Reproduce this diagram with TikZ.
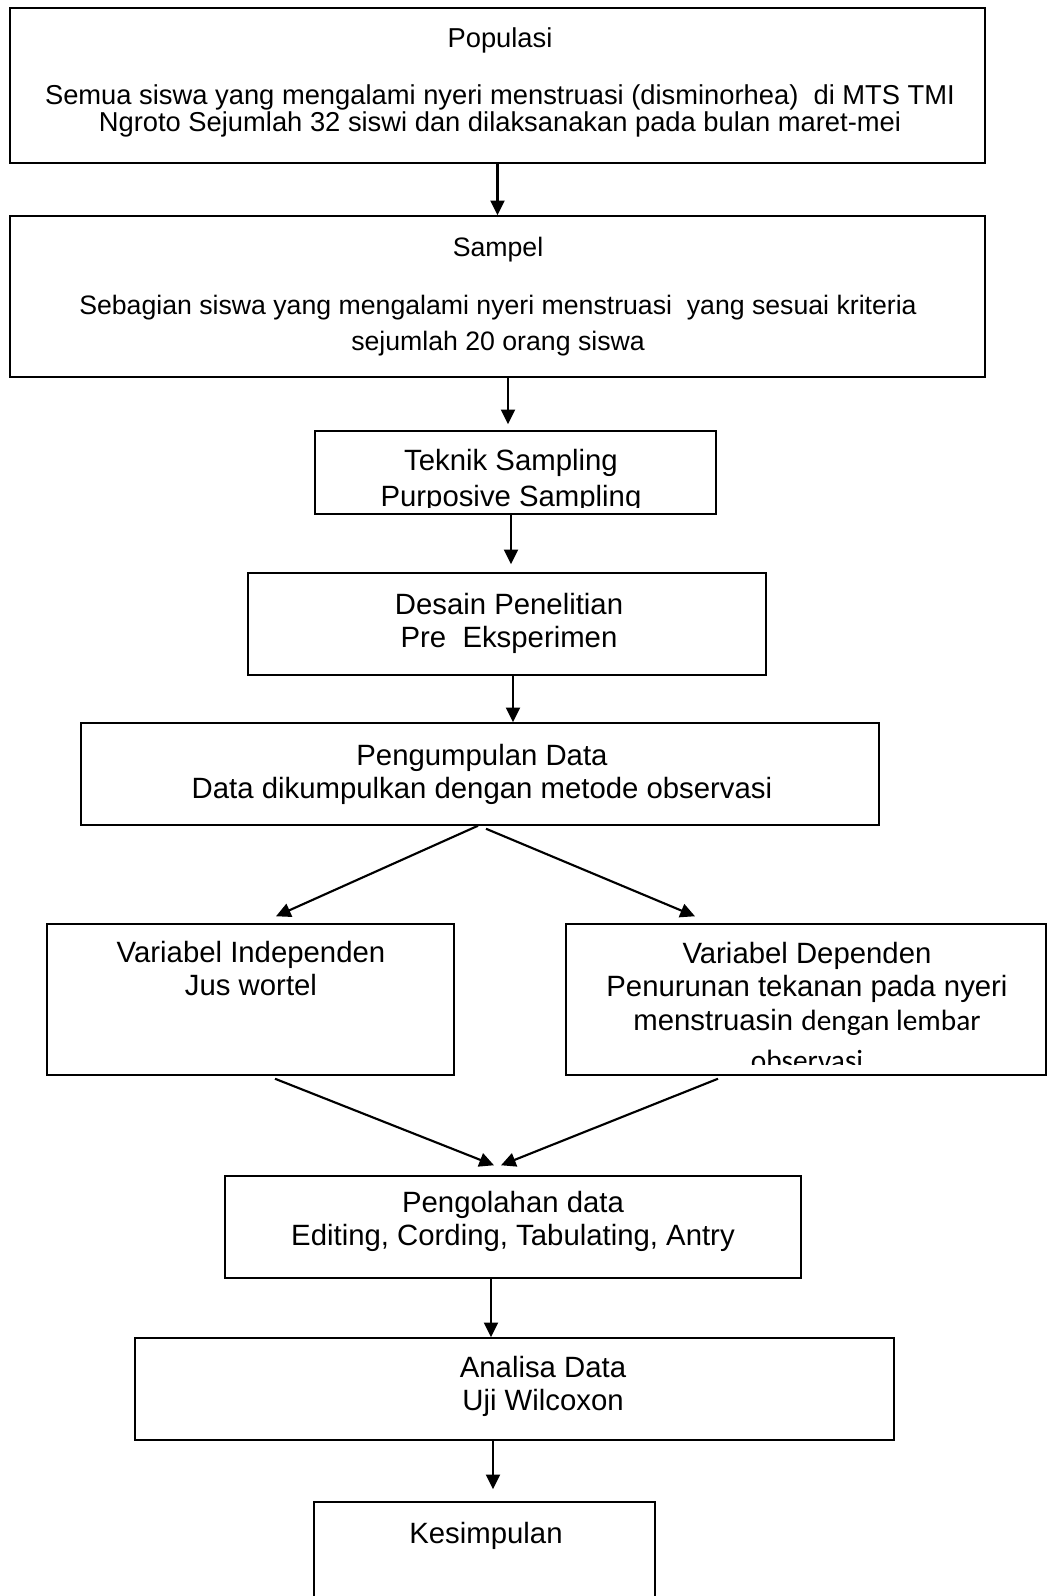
\documentclass[tikz,border=0pt]{standalone}
\usepackage{fontspec}
\setmainfont{Liberation Sans}
\newfontfamily\calibfont{Carlito}
\usetikzlibrary{arrows.meta,calc,fit}
\tikzset{
  boks/.style={draw=black,line width=1.1pt,inner sep=0pt},
  isi/.style={anchor=north,align=center,inner sep=0pt,font=\fontsize{22}{25}\selectfont},
  isik/.style={isi,font=\fontsize{20.5}{19}\selectfont},
  panah/.style={-{Triangle[length=11pt,width=10.5pt]},line width=1.6pt},
}

\begin{document}
\begin{tikzpicture}[x=0.75pt,y=-0.75pt]
  \useasboundingbox (0,0) rectangle (1048,1596);
  \clip (0,0) rectangle (1048,1596);

  % kotak-kotak alur
  \node[boks,fit={(10,8) (985,163)}]      (pop)  {};
  \node[boks,fit={(10,216) (985,377)}]    (sam)  {};
  \node[boks,fit={(315,431) (716,514)}]   (tek)  {};
  \node[boks,fit={(248,573) (766,675)}]   (des)  {};
  \node[boks,fit={(81,723) (879,825)}]    (pen)  {};
  \node[boks,fit={(47,924) (454,1075)}]   (ind)  {};
  \node[boks,fit={(566,924) (1046,1075)}] (dep)  {};
  \node[boks,fit={(225,1176) (801,1278)}] (olah) {};
  \node[boks,fit={(135,1338) (894,1440)}] (ana)  {};
  \node[boks,fit={(314,1502) (655,1640)}] (kes)  {};

  % isi kotak
  \node[isik] (popt) at (500,27)
    {Populasi\\[23pt]
     Semua siswa yang mengalami nyeri menstruasi (disminorhea)~ di MTS TMI\\
     Ngroto Sejumlah 32 siswi dan dilaksanakan pada bulan maret-mei};
  \node[isik,font=\fontsize{20}{27}\selectfont] (samt) at (498,237)
    {Sampel\\[16.5pt]
     Sebagian siswa yang mengalami nyeri menstruasi~ yang sesuai kriteria\\
     sejumlah 20 orang siswa};
  \begin{scope}
    \clip ($(tek.south west)+(1,-7)$) rectangle (tek.north east);
    \node[isi,font=\fontsize{22}{27}\selectfont] (tekt) at (511,449)
      {Teknik Sampling\\Purposive Sampling};
  \end{scope}
  \node[isi] (dest) at (509,593) {Desain Penelitian\\Pre~ Eksperimen};
  \node[isi] (pent) at (482,744)
    {Pengumpulan Data\\Data dikumpulkan dengan metode observasi};
  \node[isi] (indt) at (251,941) {Variabel Independen\\Jus wortel};
  \begin{scope}
    \clip ($(dep.south west)+(1,-11)$) rectangle (dep.north east);
    \node[isi] (dept) at (807,942)
      {Variabel Dependen\\Penurunan tekanan pada nyeri\\
       menstruasin {\calibfont dengan lembar}\\[5pt]{\calibfont observasi}};
  \end{scope}
  \node[isi] (olaht) at (513,1191)
    {Pengolahan data\\Editing, Cording, Tabulating, Antry};
  \node[isi] (anat) at (543,1356) {Analisa Data\\Uji Wilcoxon};
  \node[isi] (kest) at (486,1522) {Kesimpulan};

  % panah
  \coordinate (k1) at (508,0);
  \coordinate (k2) at (511,0);
  \coordinate (k3) at (513,0);
  \coordinate (k4) at (491,0);
  \coordinate (k5) at (493,0);
  \draw[panah] (pop) -- (sam);
  \draw[panah,shorten >=4.5pt] (sam.south -| k1) -- (tek.north -| k1);
  \draw[panah,shorten >=6pt] (tek.south -| k2) -- (des.north -| k2);
  \draw[panah] (des.south -| k3) -- (pen.north -| k3);
  \draw[panah] ($(pen.south)+(-2,0)$) -- ($(ind.north)+(25.5,-7)$);
  \draw[panah] ($(pen.south)+(6,3)$) -- ($(dep.north)+(-111,-7)$);
  \draw[panah] ($(ind.south)+(24.5,3)$) -- ($(olah.north)+(-19,-10)$);
  \draw[panah] ($(dep.south)+(-88,3)$) -- ($(olah.north)+(-12,-10)$);
  \draw[panah] (olah.south -| k4) -- (ana.north -| k4);
  \draw[panah,shorten >=9pt] (ana.south -| k5) -- (kes.north -| k5);
\end{tikzpicture}
\end{document}
